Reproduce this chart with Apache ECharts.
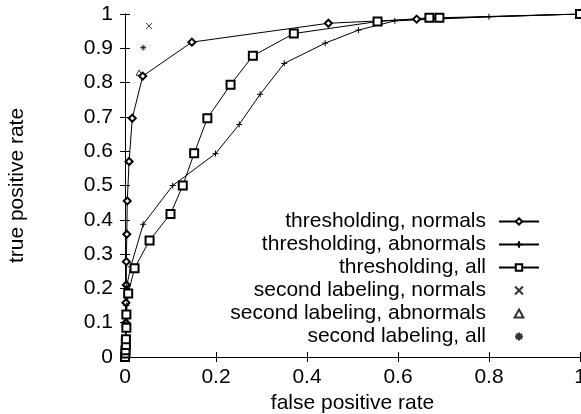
<!DOCTYPE html>
<html>
<head>
<meta charset="utf-8">
<script src="https://cdn.jsdelivr.net/npm/echarts@6/dist/echarts.min.js"></script>
<style>html,body{margin:0;padding:0;background:#fff}#c{width:581px;height:414px}</style>
</head>
<body>
<div id="c"></div>
<script>
var xTicks = [0, 0.2, 0.4, 0.6, 0.8, 1];
var yTicks = [0, 0.1, 0.2, 0.3, 0.4, 0.5, 0.6, 0.7, 0.8, 0.9, 1];

var threshNormalsX = [0, 0.001, 0.001, 0.002, 0.002, 0.003, 0.003, 0.004, 0.005, 0.009, 0.016, 0.039, 0.147, 0.447, 0.641, 1];
var threshNormalsY = [0, 0.02, 0.05, 0.1, 0.158, 0.21, 0.278, 0.358, 0.455, 0.57, 0.696, 0.819, 0.918, 0.973, 0.985, 1];

var threshAbnormalsX = [0, 0.001, 0.002, 0.003, 0.004, 0.0125, 0.04, 0.105, 0.199, 0.251, 0.297, 0.35, 0.44, 0.513, 0.593, 0.80, 1];
var threshAbnormalsY = [0, 0.05, 0.1, 0.15, 0.207, 0.263, 0.387, 0.50, 0.593, 0.678, 0.766, 0.856, 0.915, 0.953, 0.98, 0.992, 1];

var threshAllX = [0, 0.001, 0.001, 0.002, 0.002, 0.003, 0.003, 0.007, 0.021, 0.054, 0.100, 0.127, 0.152, 0.181, 0.232, 0.281, 0.371, 0.555, 0.669, 0.691, 1];
var threshAllY = [0, 0.01, 0.02, 0.035, 0.052, 0.085, 0.124, 0.185, 0.259, 0.34, 0.417, 0.50, 0.594, 0.696, 0.794, 0.878, 0.943, 0.978, 0.989, 0.989, 1];

var secondNormals = [0.053, 0.965];
var secondAbnormals = [0.031, 0.829];
var secondAll = [0.040, 0.902];

var seriesNames = ['thresholding, normals', 'thresholding, abnormals', 'thresholding, all',
  'second labeling, normals', 'second labeling, abnormals', 'second labeling, all'];

function zip(xs, ys) { return xs.map(function (x, i) { return [x, ys[i]]; }); }

var FONT = 'Liberation Sans';
var FS = 21;
var plusPath = 'path://M0,5L10,5M5,0L5,10';
var crossPath = 'path://M0,0L10,10M10,0L0,10';
var starPath = 'path://M0,5L10,5M5,0L5,10M1.5,1.5L8.5,8.5M8.5,1.5L1.5,8.5';
var triPath = 'path://M5,0L10,9L0,9Z';

var lineCommon = {
  type: 'line', animation: false, lineStyle: { color: '#000', width: 1 },
  itemStyle: { color: '#000', borderColor: '#000', borderWidth: 1 }
};

var chart = echarts.init(document.getElementById('c'), null, { renderer: 'canvas' });
chart.setOption({
  backgroundColor: '#fff',
  animation: false,
  textStyle: { fontFamily: FONT, color: '#000' },
  grid: { left: 125, right: 1, top: 14, bottom: 57, outerBoundsMode: 'none', containLabel: false },
  legend: {
    orient: 'vertical', right: 36, top: 206, align: 'right',
    itemWidth: 40, itemHeight: 8, itemGap: 2, symbolKeepAspect: true,
    textStyle: { fontFamily: FONT, fontSize: FS, color: '#000', lineHeight: 20, padding: [0, 8, 0, 0] },
    data: seriesNames
  },
  xAxis: [{
    type: 'value', min: 0, max: 1, interval: 0.2,
    name: 'false positive rate', nameLocation: 'middle', nameGap: 31,
    nameTextStyle: { fontFamily: FONT, fontSize: FS, color: '#000' },
    axisLine: { show: true, lineStyle: { color: '#000', width: 1 } },
    axisTick: { show: true, inside: true, length: 5, lineStyle: { color: '#000' } },
    axisLabel: { fontFamily: FONT, fontSize: FS, color: '#000', margin: 10 },
    splitLine: { show: false }
  }, {
    type: 'value', position: 'top', min: 0, max: 1, interval: 0.2,
    axisLine: { show: true, lineStyle: { color: '#000', width: 1 } },
    axisTick: { show: true, inside: true, length: 5, lineStyle: { color: '#000' } },
    axisLabel: { show: false }, splitLine: { show: false }
  }],
  yAxis: [{
    type: 'value', min: 0, max: 1, interval: 0.1,
    name: 'true positive rate', nameLocation: 'middle', nameGap: 97, nameRotate: 90,
    nameTextStyle: { fontFamily: FONT, fontSize: FS, color: '#000' },
    axisLine: { show: true, lineStyle: { color: '#000', width: 1 } },
    axisTick: { show: true, inside: true, length: 5, lineStyle: { color: '#000' } },
    axisLabel: { fontFamily: FONT, fontSize: FS, color: '#000', margin: 12 },
    splitLine: { show: false }
  }, {
    type: 'value', position: 'right', min: 0, max: 1, interval: 0.1,
    axisLine: { show: true, lineStyle: { color: '#000', width: 1 } },
    axisTick: { show: true, inside: true, length: 5, lineStyle: { color: '#000' } },
    axisLabel: { show: false }, splitLine: { show: false }
  }],
  series: [
    Object.assign({}, lineCommon, { name: seriesNames[0], symbol: 'emptyDiamond', symbolSize: 7, data: zip(threshNormalsX, threshNormalsY) }),
    Object.assign({}, lineCommon, { name: seriesNames[1], symbol: plusPath, symbolSize: 6, data: zip(threshAbnormalsX, threshAbnormalsY) }),
    Object.assign({}, lineCommon, { name: seriesNames[2], symbol: 'emptyRect', symbolSize: 8, data: zip(threshAllX, threshAllY) }),
    { type: 'scatter', name: seriesNames[3], symbol: crossPath, symbolSize: 6, symbolKeepAspect: true,
      itemStyle: { color: '#000', borderColor: '#000', borderWidth: 1 }, data: [secondNormals] },
    { type: 'scatter', name: seriesNames[4], symbol: triPath, symbolSize: 6, symbolKeepAspect: true,
      itemStyle: { color: '#fff', borderColor: '#000', borderWidth: 1 }, data: [secondAbnormals] },
    { type: 'scatter', name: seriesNames[5], symbol: starPath, symbolSize: 6, symbolKeepAspect: true,
      itemStyle: { color: '#000', borderColor: '#000', borderWidth: 1 }, data: [secondAll] }
  ]
});
</script>
</body>
</html>
